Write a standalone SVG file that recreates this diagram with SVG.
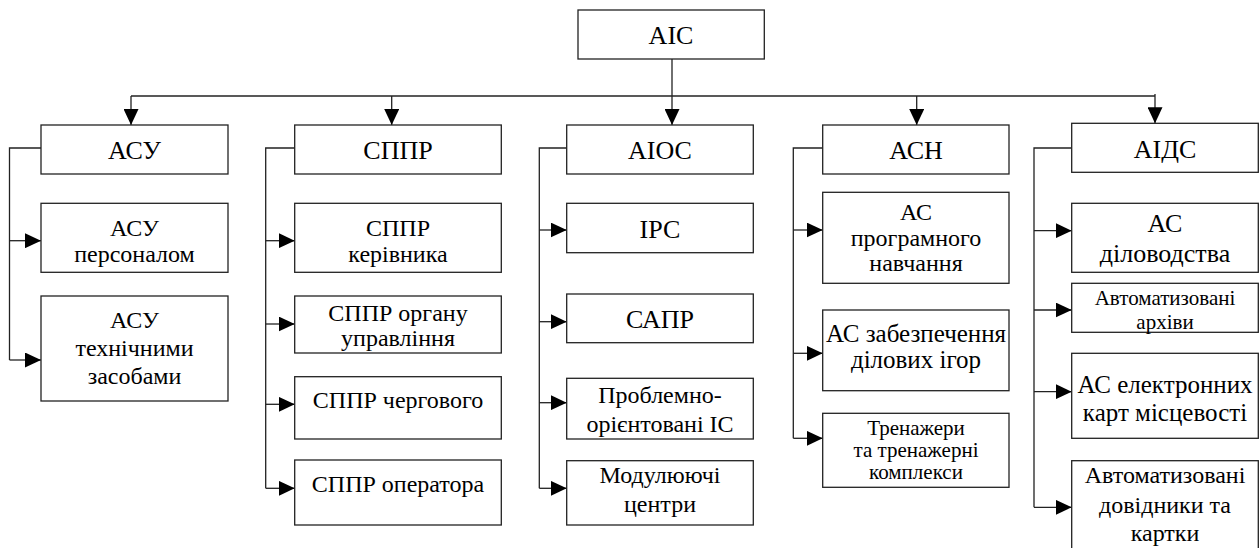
<svg xmlns="http://www.w3.org/2000/svg" width="1259" height="548" viewBox="0 0 1259 548">
<defs>
<marker id="a" viewBox="0 0 16 15" refX="16" refY="7.5" markerWidth="16" markerHeight="15" markerUnits="userSpaceOnUse" orient="auto">
<path d="M0,0 L16,7.5 L0,15 Z" fill="#000"/>
</marker>
</defs>
<rect x="0" y="0" width="1259" height="548" fill="#fff"/>
<g id="connectors" fill="none" stroke="#222" stroke-width="1.3">
<path d="M672,59 V125" marker-end="url(#a)"/>
<path d="M131,96 H1155"/>
<path d="M131,96 V125" marker-end="url(#a)"/>
<path d="M391.7,96 V125" marker-end="url(#a)"/>
<path d="M916.7,96 V125" marker-end="url(#a)"/>
<path d="M1155,94 V123.3" marker-end="url(#a)"/>
<path d="M41,148 H9.5 V360"/>
<path d="M9.5,240.7 H41" marker-end="url(#a)"/>
<path d="M9.5,360 H41" marker-end="url(#a)"/>
<path d="M294.7,148 H265.7 V488.3"/>
<path d="M265.7,240.7 H294.7" marker-end="url(#a)"/>
<path d="M265.7,324 H294.7" marker-end="url(#a)"/>
<path d="M265.7,404.3 H294.7" marker-end="url(#a)"/>
<path d="M265.7,488.3 H294.7" marker-end="url(#a)"/>
<path d="M566.7,148 H539.3 V488.3"/>
<path d="M539.3,230 H566.7" marker-end="url(#a)"/>
<path d="M539.3,321.7 H566.7" marker-end="url(#a)"/>
<path d="M539.3,402.7 H566.7" marker-end="url(#a)"/>
<path d="M539.3,488.3 H566.7" marker-end="url(#a)"/>
<path d="M822.7,148 H793.3 V438.3"/>
<path d="M793.3,230 H822.7" marker-end="url(#a)"/>
<path d="M793.3,353.3 H822.7" marker-end="url(#a)"/>
<path d="M793.3,438.3 H822.7" marker-end="url(#a)"/>
<path d="M1071.7,148 H1034 V507.3"/>
<path d="M1034,230.7 H1071.7" marker-end="url(#a)"/>
<path d="M1034,310 H1071.7" marker-end="url(#a)"/>
<path d="M1034,391.7 H1071.7" marker-end="url(#a)"/>
<path d="M1034,507.3 H1071.7" marker-end="url(#a)"/>
</g>
<g id="ais"><rect x="578" y="10" width="186.3" height="49" fill="#fff" stroke="#222" stroke-width="1.3"/><text font-family="Liberation Serif" text-anchor="middle" font-size="26" x="671" y="44">АІС</text></g>
<g id="asu"><rect x="41" y="125" width="187" height="49" fill="#fff" stroke="#222" stroke-width="1.3"/><text font-family="Liberation Serif" text-anchor="middle" font-size="26" x="134.5" y="159">АСУ</text></g>
<g id="asu-pers"><rect x="41" y="203.3" width="187" height="69" fill="#fff" stroke="#222" stroke-width="1.3"/><text font-family="Liberation Serif" text-anchor="middle" font-size="24" x="134.5" y="236">АСУ</text><text font-family="Liberation Serif" text-anchor="middle" font-size="24" x="134.5" y="262">персоналом</text></g>
<g id="asu-tech"><rect x="41" y="296" width="187" height="105" fill="#fff" stroke="#222" stroke-width="1.3"/><text font-family="Liberation Serif" text-anchor="middle" font-size="24" x="134.5" y="328">АСУ</text><text font-family="Liberation Serif" text-anchor="middle" font-size="24" x="134.5" y="356">технічними</text><text font-family="Liberation Serif" text-anchor="middle" font-size="24" x="134.5" y="384">засобами</text></g>
<g id="sppr"><rect x="294.7" y="125" width="206.6" height="49" fill="#fff" stroke="#222" stroke-width="1.3"/><text font-family="Liberation Serif" text-anchor="middle" font-size="26" x="398" y="159">СППР</text></g>
<g id="sppr-ker"><rect x="294.7" y="203.3" width="206.6" height="69" fill="#fff" stroke="#222" stroke-width="1.3"/><text font-family="Liberation Serif" text-anchor="middle" font-size="24" x="398" y="236">СППР</text><text font-family="Liberation Serif" text-anchor="middle" font-size="24" x="398" y="262">керівника</text></g>
<g id="sppr-org"><rect x="294.7" y="296" width="206.6" height="57" fill="#fff" stroke="#222" stroke-width="1.3"/><text font-family="Liberation Serif" text-anchor="middle" font-size="24" x="398" y="320.5">СППР органу</text><text font-family="Liberation Serif" text-anchor="middle" font-size="24" x="398" y="345.5">управління</text></g>
<g id="sppr-cherg"><rect x="294.7" y="376.7" width="206.6" height="62.3" fill="#fff" stroke="#222" stroke-width="1.3"/><text font-family="Liberation Serif" text-anchor="middle" font-size="24" x="398" y="408.3">СППР чергового</text></g>
<g id="sppr-oper"><rect x="294.7" y="460" width="206.6" height="65" fill="#fff" stroke="#222" stroke-width="1.3"/><text font-family="Liberation Serif" text-anchor="middle" font-size="24" x="398" y="491.7">СППР оператора</text></g>
<g id="aios"><rect x="566.7" y="125" width="186.6" height="49" fill="#fff" stroke="#222" stroke-width="1.3"/><text font-family="Liberation Serif" text-anchor="middle" font-size="26" x="660" y="159">АІОС</text></g>
<g id="irs"><rect x="566.7" y="203.3" width="186.6" height="49.4" fill="#fff" stroke="#222" stroke-width="1.3"/><text font-family="Liberation Serif" text-anchor="middle" font-size="26" x="660" y="238.3">ІРС</text></g>
<g id="sapr"><rect x="566.7" y="294" width="186.6" height="48.7" fill="#fff" stroke="#222" stroke-width="1.3"/><text font-family="Liberation Serif" text-anchor="middle" font-size="26" x="660" y="328.3">САПР</text></g>
<g id="probl"><rect x="566.7" y="378.3" width="186.6" height="60.7" fill="#fff" stroke="#222" stroke-width="1.3"/><text font-family="Liberation Serif" text-anchor="middle" font-size="24" x="660" y="403.3">Проблемно-</text><text font-family="Liberation Serif" text-anchor="middle" font-size="24" x="660" y="431.7">орієнтовані ІС</text></g>
<g id="modul"><rect x="566.7" y="460.7" width="186.6" height="64.3" fill="#fff" stroke="#222" stroke-width="1.3"/><text font-family="Liberation Serif" text-anchor="middle" font-size="24" x="660" y="483.3">Модулюючі</text><text font-family="Liberation Serif" text-anchor="middle" font-size="24" x="660" y="511.7">центри</text></g>
<g id="asn"><rect x="822.7" y="125" width="186.3" height="49" fill="#fff" stroke="#222" stroke-width="1.3"/><text font-family="Liberation Serif" text-anchor="middle" font-size="26" x="916" y="159">АСН</text></g>
<g id="as-prog"><rect x="822.7" y="192.3" width="186.3" height="91" fill="#fff" stroke="#222" stroke-width="1.3"/><text font-family="Liberation Serif" text-anchor="middle" font-size="24" x="916" y="220">АС</text><text font-family="Liberation Serif" text-anchor="middle" font-size="24" x="916" y="246">програмного</text><text font-family="Liberation Serif" text-anchor="middle" font-size="24" x="916" y="271">навчання</text></g>
<g id="as-zab"><rect x="822.7" y="310" width="186.3" height="80.7" fill="#fff" stroke="#222" stroke-width="1.3"/><text font-family="Liberation Serif" text-anchor="middle" font-size="25" x="916" y="341.7">АС забезпечення</text><text font-family="Liberation Serif" text-anchor="middle" font-size="25" x="916" y="368">ділових ігор</text></g>
<g id="tren"><rect x="822.7" y="413.3" width="186.3" height="74" fill="#fff" stroke="#222" stroke-width="1.3"/><text font-family="Liberation Serif" text-anchor="middle" font-size="21" x="916" y="435">Тренажери</text><text font-family="Liberation Serif" text-anchor="middle" font-size="21" x="916" y="457">та тренажерні</text><text font-family="Liberation Serif" text-anchor="middle" font-size="21" x="916" y="479">комплекси</text></g>
<g id="aids"><rect x="1071.7" y="123.3" width="186.6" height="49" fill="#fff" stroke="#222" stroke-width="1.3"/><text font-family="Liberation Serif" text-anchor="middle" font-size="26" x="1165" y="158.3">АІДС</text></g>
<g id="as-dil"><rect x="1071.7" y="203.3" width="186.6" height="69" fill="#fff" stroke="#222" stroke-width="1.3"/><text font-family="Liberation Serif" text-anchor="middle" font-size="26" x="1165" y="231.5">АС</text><text font-family="Liberation Serif" text-anchor="middle" font-size="26" x="1165" y="261.5">діловодства</text></g>
<g id="avt-arch"><rect x="1071.7" y="283.3" width="186.6" height="49" fill="#fff" stroke="#222" stroke-width="1.3"/><text font-family="Liberation Serif" text-anchor="middle" font-size="21" x="1165" y="305">Автоматизовані</text><text font-family="Liberation Serif" text-anchor="middle" font-size="21" x="1165" y="329">архіви</text></g>
<g id="as-el"><rect x="1071.7" y="353.3" width="186.6" height="85" fill="#fff" stroke="#222" stroke-width="1.3"/><text font-family="Liberation Serif" text-anchor="middle" font-size="25" x="1165" y="393">АС електронних</text><text font-family="Liberation Serif" text-anchor="middle" font-size="25" x="1165" y="421">карт місцевості</text></g>
<g id="avt-dov"><rect x="1071.7" y="460.7" width="186.6" height="100" fill="#fff" stroke="#222" stroke-width="1.3"/><text font-family="Liberation Serif" text-anchor="middle" font-size="24" x="1165" y="483">Автоматизовані</text><text font-family="Liberation Serif" text-anchor="middle" font-size="24" x="1165" y="513">довідники та</text><text font-family="Liberation Serif" text-anchor="middle" font-size="24" x="1165" y="541">картки</text></g>
</svg>
